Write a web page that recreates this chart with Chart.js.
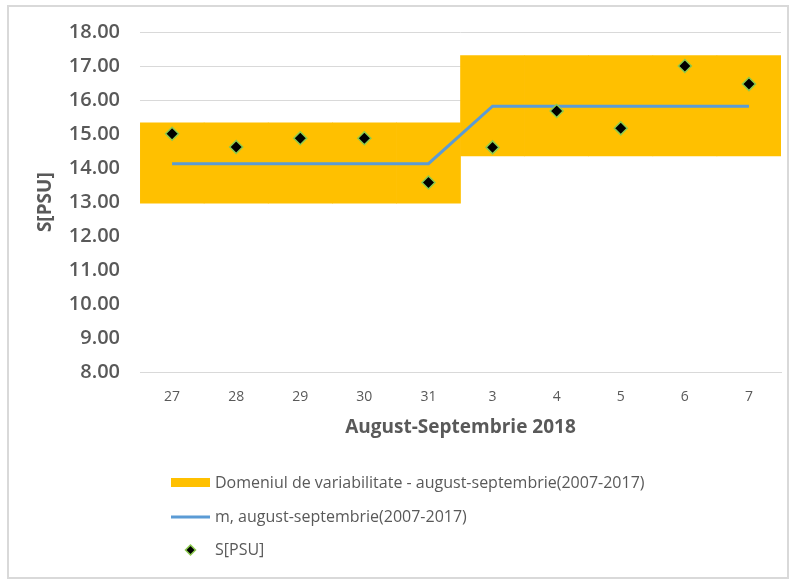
<!DOCTYPE html>
<html>
<head>
<meta charset="utf-8">
<script src="https://cdn.jsdelivr.net/npm/chart.js@4.4.0/dist/chart.umd.min.js"></script>
<style>
  html, body { margin: 0; padding: 0; background: #fff; }
  #frame {
    position: absolute; left: 7px; top: 5px;
    width: 778px; height: 570px;
    border: 2px solid #d9d9d9;
  }
  #wrap { position: absolute; left: 0; top: 0; width: 790px; height: 579px; }
</style>
</head>
<body>
<div id="frame"></div>
<div id="wrap"><canvas id="salChart" width="790" height="579"></canvas></div>
<script>
// Days (27-31 august, 3-7 septembrie 2018)
const days = ['27', '28', '29', '30', '31', '3', '4', '5', '6', '7'];

// Variability range 2007-2017 (low / high) for each day
const rangeLow  = [12.97, 12.97, 12.97, 12.97, 12.97, 14.36, 14.36, 14.36, 14.36, 14.36];
const rangeHigh = [15.33, 15.33, 15.33, 15.33, 15.33, 17.31, 17.31, 17.31, 17.31, 17.31];

// Multi-year mean
const meanValues = [14.13, 14.13, 14.13, 14.13, 14.13, 15.82, 15.82, 15.82, 15.82, 15.82];

// Measured salinity 2018
const salinity = [15.01, 14.62, 14.88, 14.88, 13.58, 14.61, 15.68, 15.17, 17.00, 16.47];

// Y ticks
const yMin = 8, yMax = 18, yStep = 1;

const textGrey = '#595959';
const gridGrey = '#d9d9d9';

// Custom vertical legend below the axis title (like the Excel one)
const legendBelow = {
    id: 'legendBelow',
    afterDraw(chart) {
        const ctx = chart.ctx;
        const ds = chart.data.datasets;
        const x0 = 171, symW = 39, textX = 215;
        const rows = [483, 517, 550];
        ctx.save();
        ctx.font = '16px "Open Sans"';
        ctx.textBaseline = 'middle';
        ds.forEach((d, i) => {
            const y = rows[i];
            if (d.type === 'bar') {
                ctx.fillStyle = d.backgroundColor;
                ctx.fillRect(x0, y - 5, symW, 9);
            } else if (d.showLine === false) {
                const cx = x0 + symW / 2;
                ctx.beginPath();
                ctx.moveTo(cx, y - 5);
                ctx.lineTo(cx + 5, y);
                ctx.lineTo(cx, y + 5);
                ctx.lineTo(cx - 5, y);
                ctx.closePath();
                ctx.fillStyle = d.backgroundColor;
                ctx.fill();
                ctx.lineWidth = 1.5;
                ctx.strokeStyle = d.borderColor;
                ctx.stroke();
            } else {
                ctx.strokeStyle = d.borderColor;
                ctx.lineWidth = 3;
                ctx.beginPath();
                ctx.moveTo(x0, y);
                ctx.lineTo(x0 + symW, y);
                ctx.stroke();
            }
            ctx.fillStyle = textGrey;
            ctx.fillText(d.label, textX, y);
        });
        ctx.restore();
    }
};

const ctx = document.getElementById('salChart').getContext('2d');

new Chart(ctx, {
    type: 'bar',
    data: {
        labels: days,
        datasets: [
            {
                type: 'bar',
                label: 'Domeniul de variabilitate - august-septembrie(2007-2017)',
                data: rangeLow.map((lo, i) => [lo, rangeHigh[i]]),
                backgroundColor: '#FFC000',
                borderWidth: 0,
                barPercentage: 1,
                categoryPercentage: 1,
                order: 3
            },
            {
                type: 'line',
                label: 'm, august-septembrie(2007-2017)',
                data: meanValues,
                borderColor: '#5B9BD5',
                borderWidth: 3,
                pointRadius: 0,
                tension: 0,
                fill: false,
                order: 2
            },
            {
                type: 'line',
                label: 'S[PSU]',
                data: salinity,
                showLine: false,
                pointStyle: 'rectRot',
                pointRadius: 6.5,
                pointBorderWidth: 1.5,
                backgroundColor: '#000000',
                borderColor: '#8CCB4F',
                order: 1
            }
        ]
    },
    options: {
        responsive: false,
        animation: false,
        layout: {
            padding: { left: 34, right: 9, top: 29, bottom: 140 }
        },
        plugins: {
            legend: { display: false },
            tooltip: { enabled: false }
        },
        scales: {
            x: {
                offset: true,
                grid: { display: false },
                border: { display: true, color: gridGrey, width: 1 },
                ticks: {
                    color: textGrey,
                    font: { family: 'Open Sans', size: 14 },
                    padding: 8
                },
                title: {
                    display: true,
                    text: 'August-Septembrie 2018',
                    color: textGrey,
                    font: { family: 'Open Sans', size: 19, weight: 'bold' },
                    padding: { top: 3, bottom: 0 }
                }
            },
            y: {
                min: yMin,
                max: yMax,
                border: { display: false },
                grid: {
                    drawTicks: false,
                    color: function (c) {
                        const v = c.tick.value;
                        return (v >= 16 || v === yMin) ? gridGrey : 'rgba(0,0,0,0)';
                    }
                },
                ticks: {
                    stepSize: yStep,
                    color: textGrey,
                    padding: 20,
                    font: { family: 'Open Sans', size: 20, weight: '600' },
                    callback: function (value) {
                        return Number(value).toFixed(2);
                    }
                },
                title: {
                    display: true,
                    text: 'S[PSU]',
                    color: textGrey,
                    font: { family: 'Open Sans', size: 19, weight: 'bold' },
                    padding: { top: 0, bottom: -8 }
                }
            }
        }
    },
    plugins: [legendBelow]
});
</script>
</body>
</html>
